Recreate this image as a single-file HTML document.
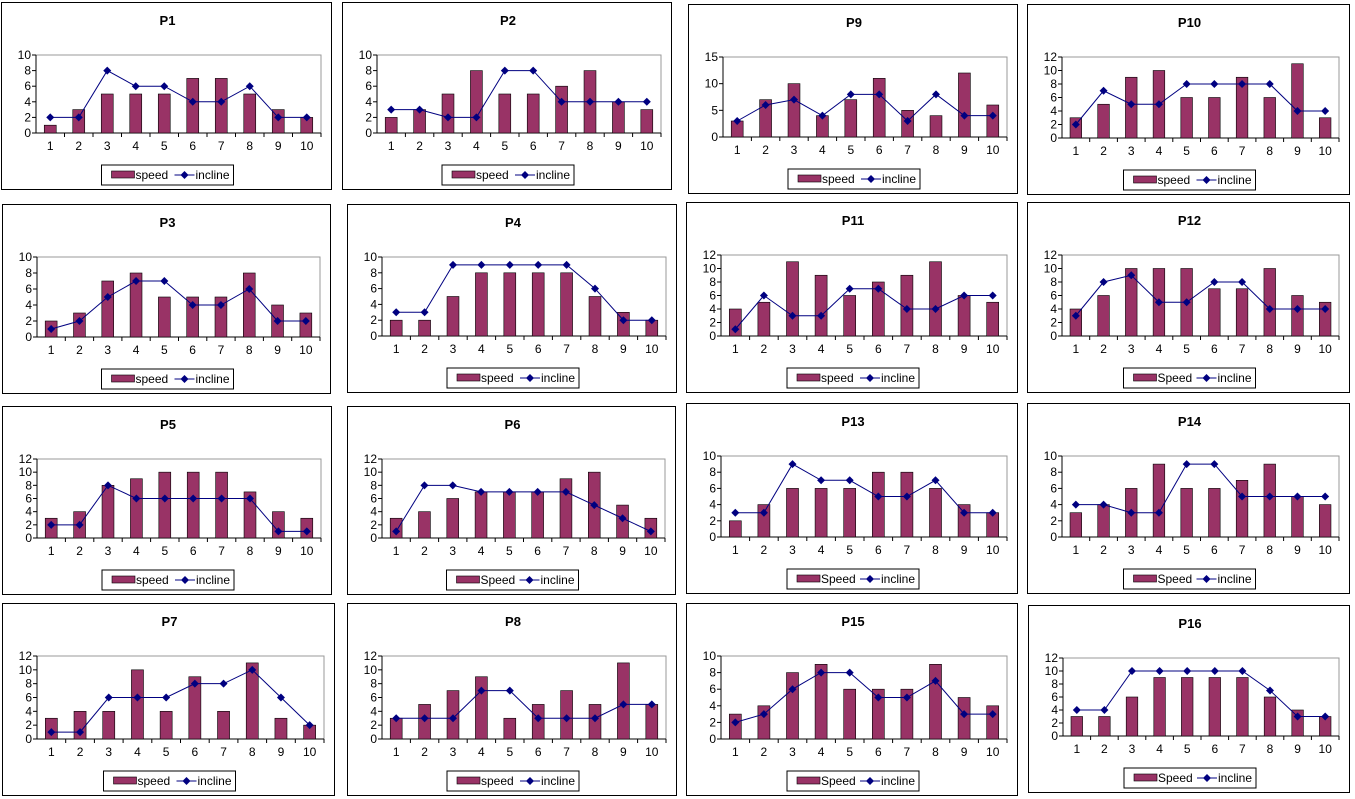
<!DOCTYPE html>
<html><head><meta charset="utf-8"><style>
body{margin:0;background:#fff;width:1355px;height:799px;position:relative;overflow:hidden;font-family:"Liberation Sans",Arial,sans-serif}
.p{position:absolute;border:1px solid #000;background:#fff;box-sizing:border-box}
svg{position:absolute;left:0;top:0}
</style></head><body>
<div id="root"></div>
<script>
var P=[
["P1",1,2,332,190,10,2,"speed",[1,3,5,5,5,7,7,5,3,2],[2,2,8,6,6,4,4,6,2,2]],
["P2",342,2,672,190,10,2,"speed",[2,3,5,8,5,5,6,8,4,3],[3,3,2,2,8,8,4,4,4,4]],
["P9",688,4,1018,194,15,5,"speed",[3,7,10,4,7,11,5,4,12,6],[3,6,7,4,8,8,3,8,4,4]],
["P10",1027,4,1350,195,12,2,"speed",[3,5,9,10,6,6,9,6,11,3],[2,7,5,5,8,8,8,8,4,4]],
["P3",2,204,331,394,10,2,"speed",[2,3,7,8,5,5,5,8,4,3],[1,2,5,7,7,4,4,6,2,2]],
["P4",347,204,677,393,10,2,"speed",[2,2,5,8,8,8,8,5,3,2],[3,3,9,9,9,9,9,6,2,2]],
["P11",686,202,1018,393,12,2,"speed",[4,5,11,9,6,8,9,11,6,5],[1,6,3,3,7,7,4,4,6,6]],
["P12",1027,202,1350,393,12,2,"Speed",[4,6,10,10,10,7,7,10,6,5],[3,8,9,5,5,8,8,4,4,4]],
["P5",2,406,332,595,12,2,"speed",[3,4,8,9,10,10,10,7,4,3],[2,2,8,6,6,6,6,6,1,1]],
["P6",347,406,676,595,12,2,"Speed",[3,4,6,7,7,7,9,10,5,3],[1,8,8,7,7,7,7,5,3,1]],
["P13",686,403,1018,594,10,2,"Speed",[2,4,6,6,6,8,8,6,4,3],[3,3,9,7,7,5,5,7,3,3]],
["P14",1027,403,1350,594,10,2,"Speed",[3,4,6,9,6,6,7,9,5,4],[4,4,3,3,9,9,5,5,5,5]],
["P7",2,603,335,796,12,2,"speed",[3,4,4,10,4,9,4,11,3,2],[1,1,6,6,6,8,8,10,6,2]],
["P8",347,603,677,796,12,2,"speed",[3,5,7,9,3,5,7,5,11,5],[3,3,3,7,7,3,3,3,5,5]],
["P15",686,603,1018,796,10,2,"Speed",[3,4,8,9,6,6,6,9,5,4],[2,3,6,8,8,5,5,7,3,3]],
["P16",1028,605,1350,793,12,2,"Speed",[3,3,6,9,9,9,9,6,4,3],[4,4,10,10,10,10,10,7,3,3]]
];
var h='';
P.forEach(function(p){
 var w=p[3]-p[1],H=p[4]-p[2];
 var L=34,R=w-12,T=52,B=H-58;
 var s='<svg width="'+w+'" height="'+H+'" font-family="Liberation Sans,Arial,sans-serif">';
 s+='<text x="'+(w/2)+'" y="22" text-anchor="middle" font-size="13" font-weight="bold">'+p[0]+'</text>';
 s+='<rect x="'+L+'" y="'+T+'" width="'+(R-L)+'" height="'+(B-T)+'" fill="none" stroke="#999"/>';
 s+='<line x1="'+L+'" y1="'+T+'" x2="'+L+'" y2="'+B+'" stroke="#000"/><line x1="'+L+'" y1="'+B+'" x2="'+R+'" y2="'+B+'" stroke="#000"/>';
 var mx=p[5],st=p[6];
 function y(v){return B-(B-T)*v/mx;}
 for(var v=0;v<=mx;v+=st){s+='<line x1="'+(L-4)+'" y1="'+y(v)+'" x2="'+L+'" y2="'+y(v)+'" stroke="#000"/><text x="'+(L-5)+'" y="'+(y(v)+4)+'" text-anchor="end" font-size="12">'+v+'</text>';}
 var cw=(R-L)/10,pts=[];
 for(var i=0;i<10;i++){
  var cx=L+cw*(i+0.5),bw=cw*0.42;
  s+='<line x1="'+(L+cw*(i+1))+'" y1="'+B+'" x2="'+(L+cw*(i+1))+'" y2="'+(B+4)+'" stroke="#000"/>';
  s+='<rect x="'+(cx-bw/2)+'" y="'+y(p[8][i])+'" width="'+bw+'" height="'+(B-y(p[8][i]))+'" fill="#993366" stroke="#000" stroke-width="0.6"/>';
  s+='<text x="'+cx+'" y="'+(B+17)+'" text-anchor="middle" font-size="12">'+(i+1)+'</text>';
  pts.push(cx+','+y(p[9][i]));
 }
 s+='<polyline points="'+pts.join(' ')+'" fill="none" stroke="#000080" stroke-width="1"/>';
 pts.forEach(function(q){var a=q.split(',');s+='<path d="M'+a[0]+' '+(a[1]-4)+'l4 4l-4 4l-4 -4z" fill="#000080"/>';});
 var lx=w/2-66,ly=H-26;
 s+='<rect x="'+lx+'" y="'+ly+'" width="132" height="20" fill="#fff" stroke="#000"/>';
 s+='<rect x="'+(lx+10)+'" y="'+(ly+6)+'" width="23" height="7" fill="#993366" stroke="#000" stroke-width="0.6"/>';
 s+='<text x="'+(lx+34)+'" y="'+(ly+14)+'" font-size="12">'+p[7]+'</text>';
 s+='<line x1="'+(lx+73)+'" y1="'+(ly+10)+'" x2="'+(lx+93)+'" y2="'+(ly+10)+'" stroke="#000080"/><path d="M'+(lx+83)+' '+(ly+6)+'l4 4l-4 4l-4 -4z" fill="#000080"/>';
 s+='<text x="'+(lx+94)+'" y="'+(ly+14)+'" font-size="12">incline</text>';
 s+='</svg>';
 h+='<div class="p" style="left:'+p[1]+'px;top:'+p[2]+'px;width:'+w+'px;height:'+H+'px">'+s+'</div>';
});
document.getElementById('root').innerHTML=h;
</script>
</body></html>
